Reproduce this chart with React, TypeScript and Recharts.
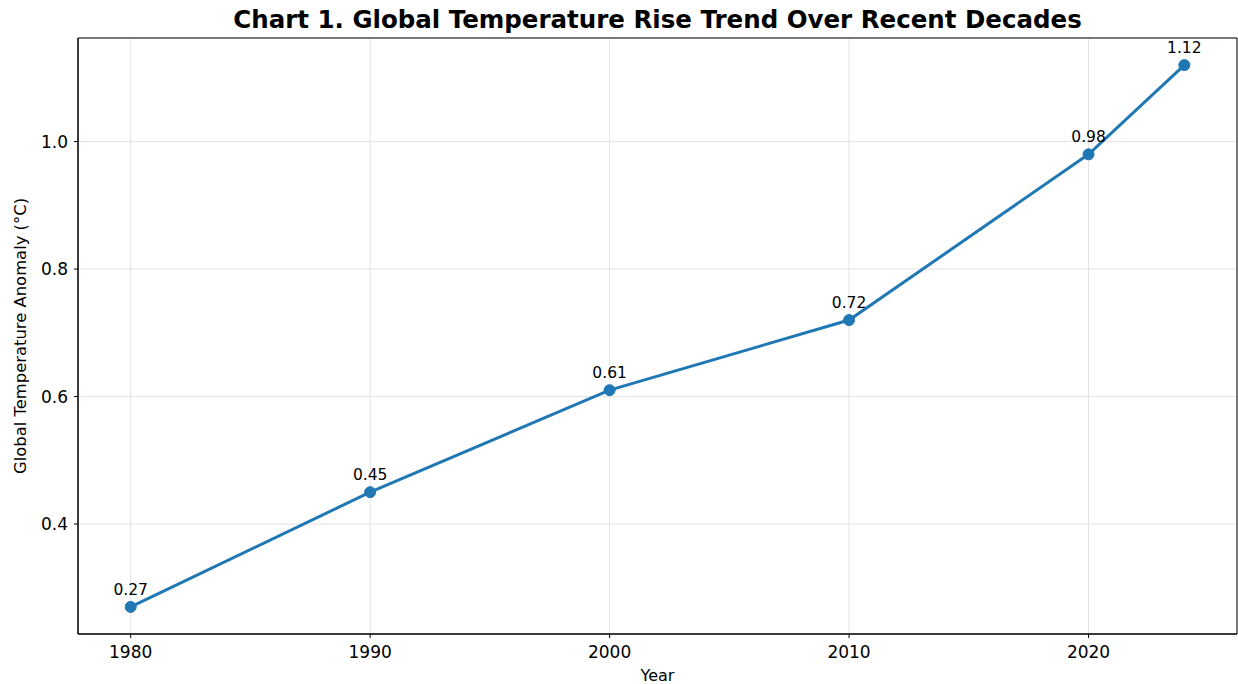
import { LineChart, Line, XAxis, YAxis, CartesianGrid, LabelList, ReferenceArea } from 'recharts'

const years = [1980, 1990, 2000, 2010, 2020, 2024]
const anomalies = [0.27, 0.45, 0.61, 0.72, 0.98, 1.12]
const xTicks = [1980, 1990, 2000, 2010, 2020]
const yTicks = [0.4, 0.6, 0.8, 1.0]

const data = years.map((year, i) => ({ year, value: anomalies[i] }))

const X_DOMAIN: [number, number] = [1977.8, 2026.2]
const Y_DOMAIN: [number, number] = [0.2275, 1.1625]
const FONT = '"DejaVu Sans", sans-serif'

export default function App() {
  return (
    <div style={{ position: 'absolute', left: 0, top: 0, width: 1238, height: 684, fontFamily: FONT, background: '#fff' }}>
      <div
        style={{
          position: 'absolute',
          left: 78,
          width: 1159,
          top: 5,
          textAlign: 'center',
          fontSize: 24.5,
          lineHeight: '30px',
          fontWeight: 'bold',
          color: '#000',
        }}
      >
        Chart 1. Global Temperature Rise Trend Over Recent Decades
      </div>
      <LineChart width={1238} height={684} data={data} margin={{ top: 38, right: 1, left: 0, bottom: 0 }}>
        <CartesianGrid stroke="#e3e3e3" strokeWidth={1} />
        <XAxis
          dataKey="year"
          type="number"
          domain={X_DOMAIN}
          ticks={xTicks}
          height={50}
          tickSize={4}
          tickMargin={8}
          stroke="#000"
          tick={{ fill: '#000', fontSize: 17, fontFamily: FONT }}
          label={{ value: 'Year', position: 'insideBottom', offset: 3, style: { fontSize: 16, fill: '#000', fontFamily: FONT } }}
        />
        <YAxis
          type="number"
          domain={Y_DOMAIN}
          ticks={yTicks}
          width={78}
          tickSize={4}
          tickMargin={6}
          stroke="#000"
          tickFormatter={(v: number) => v.toFixed(1)}
          tick={{ fill: '#000', fontSize: 17, fontFamily: FONT }}
          label={{
            value: 'Global Temperature Anomaly (°C)',
            angle: -90,
            position: 'insideLeft',
            offset: 20,
            style: { textAnchor: 'middle', fontSize: 16.4, fill: '#000', fontFamily: FONT },
          }}
        />
        <ReferenceArea
          x1={X_DOMAIN[0]}
          x2={X_DOMAIN[1]}
          y1={Y_DOMAIN[0]}
          y2={Y_DOMAIN[1]}
          fill="none"
          stroke="#000"
          strokeWidth={1}
          ifOverflow="extendDomain"
        />
        <Line
          dataKey="value"
          stroke="#1f77b4"
          strokeWidth={3}
          dot={{ r: 5.5, fill: '#1f77b4', stroke: '#1f77b4', strokeWidth: 1 }}
          isAnimationActive={false}
        >
          <LabelList dataKey="value" position="top" offset={12} style={{ fontSize: 15.5, fill: '#000', fontFamily: FONT }} />
        </Line>
      </LineChart>
    </div>
  )
}
